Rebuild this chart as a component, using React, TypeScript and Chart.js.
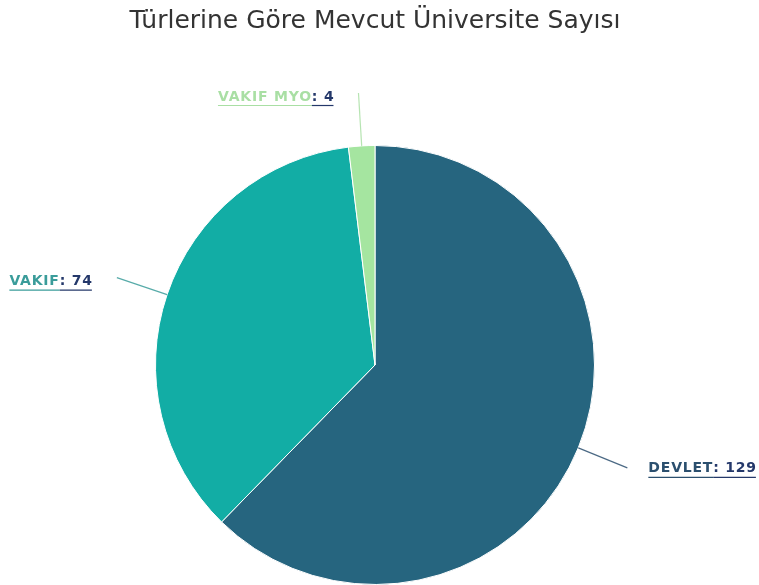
import React, { useEffect, useRef } from "react";
import { Chart, registerables } from "chart.js";

Chart.register(...registerables);

const titleText = "Türlerine Göre Mevcut Üniversite Sayısı";
const categories = ["DEVLET", "VAKIF", "VAKIF MYO"];
const values = [129, 74, 4];
const sliceColors = ["#26657f", "#12ada5", "#a5e5a0"];
const nameColors = ["#2b4f6e", "#3a9c9a", "#a9dfa4"];
const valueColor = "#24386a";

const labelPlugin = {
  id: "sideLabels",
  afterDatasetsDraw(chart: any) {
    const ctx = chart.ctx;
    const meta = chart.getDatasetMeta(0);
    ctx.save();
    ctx.font = "bold 14px 'DejaVu Sans', sans-serif";
    (ctx as any).letterSpacing = "0.8px";
    ctx.textBaseline = "middle";
    meta.data.forEach((arc: any, i: number) => {
      const { x, y, startAngle, endAngle, outerRadius } = arc.getProps(
        ["x", "y", "startAngle", "endAngle", "outerRadius"],
        true
      );
      const mid = (startAngle + endAngle) / 2;
      const cos = Math.cos(mid);
      const sin = Math.sin(mid);
      const p1x = x + outerRadius * cos;
      const p1y = y + outerRadius * sin;
      const p2x = x + (outerRadius + 53) * cos;
      const p2y = y + (outerRadius + 53) * sin;
      ctx.strokeStyle = nameColors[i];
      ctx.globalAlpha = 0.85;
      ctx.lineWidth = 1.2;
      ctx.beginPath();
      ctx.moveTo(p1x, p1y);
      ctx.lineTo(p2x, p2y);
      ctx.stroke();
      ctx.globalAlpha = 1;
      const name = categories[i];
      const val = ": " + values[i];
      const wName = ctx.measureText(name).width;
      const wVal = ctx.measureText(val).width;
      const right = cos >= 0;
      const startX = right ? p2x + 21 : p2x - 24 - wName - wVal;
      const ty = p2y + (right ? 1 : 4);
      ctx.textAlign = "left";
      ctx.fillStyle = nameColors[i];
      ctx.fillText(name, startX, ty);
      ctx.fillStyle = valueColor;
      ctx.fillText(val, startX + wName, ty);
      ctx.lineWidth = 1.2;
      ctx.strokeStyle = nameColors[i];
      ctx.beginPath();
      ctx.moveTo(startX, ty + 8.5);
      ctx.lineTo(startX + wName, ty + 8.5);
      ctx.stroke();
      ctx.strokeStyle = valueColor;
      ctx.beginPath();
      ctx.moveTo(startX + wName, ty + 8.5);
      ctx.lineTo(startX + wName + wVal - 1, ty + 8.5);
      ctx.stroke();
    });
    ctx.restore();
  },
};

export default function App() {
  const ref = useRef<HTMLCanvasElement>(null);
  useEffect(() => {
    if (!ref.current) return;
    const chart = new Chart(ref.current, {
      type: "pie",
      data: {
        labels: categories,
        datasets: [
          {
            data: values,
            backgroundColor: sliceColors,
            borderColor: "#ffffff",
            borderWidth: 1,
          },
        ],
      },
      options: {
        animation: false,
        responsive: false,
        layout: { padding: { left: 0, right: 9, top: 0, bottom: 0 } },
        plugins: {
          legend: { display: false },
          tooltip: { enabled: false },
          title: {
            display: true,
            text: titleText,
            color: "#333333",
            font: { family: "'DejaVu Sans', sans-serif", size: 25, weight: "normal" },
            padding: { top: 6, bottom: 109 },
          },
        },
      },
      plugins: [labelPlugin],
    });
    return () => chart.destroy();
  }, []);
  return (
    <div style={{ position: "fixed", left: 0, top: 0, width: 759, height: 585, background: "#fff" }}>
      <canvas ref={ref} width={759} height={585} style={{ width: 759, height: 585 }} />
    </div>
  );
}
